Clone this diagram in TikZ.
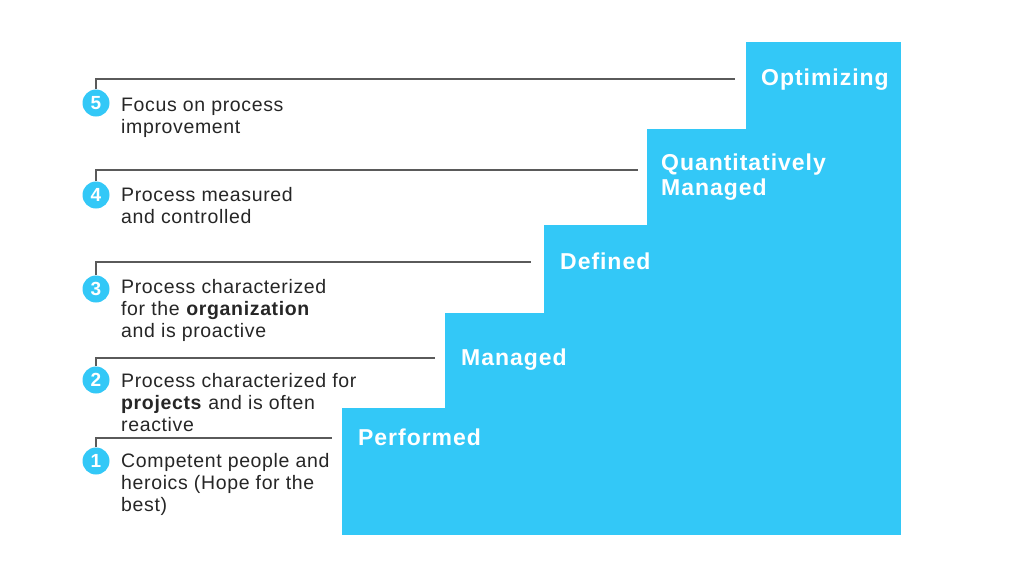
\documentclass[tikz,border=0pt]{standalone}
\usepackage{fontspec}
\setmainfont{Liberation Sans}
\definecolor{stepblue}{HTML}{33C8F7}
\definecolor{linegray}{HTML}{5A5A5A}
\begin{document}
\begin{tikzpicture}[x=1pt,y=-1pt,
  stepbox/.style={fill=stepblue,draw=none,inner sep=0,outer sep=0,anchor=north west},
  steplabel/.style={text=white,font=\fontsize{23}{25}\selectfont\bfseries\addfontfeature{LetterSpace=4.2},anchor=base west,inner sep=0,align=left},
  numcircle/.style={circle,fill=stepblue,draw=none,minimum size=27,inner sep=0,text=white,font=\fontsize{19}{19}\selectfont\bfseries},
  desc/.style={anchor=north west,inner sep=0,align=left,text=black!85,font=\fontsize{19.5}{22}\selectfont\addfontfeature{LetterSpace=3.3}},
  leader/.style={draw=linegray,line width=1.3pt}]
\useasboundingbox[fill=white] (0,0) rectangle (1013,582);
% staircase
\node[stepbox,minimum width=559,minimum height=127] (s1) at (342,408) {};
\node[stepbox,minimum width=456,minimum height=222] (s2) at (445,313) {};
\node[stepbox,minimum width=357,minimum height=310] (s3) at (544,225) {};
\node[stepbox,minimum width=254,minimum height=406] (s4) at (647,129) {};
\node[stepbox,minimum width=155,minimum height=493] (s5) at (746,42) {};
% step labels
\node[steplabel] (l1) at (358,445) {Performed};
\node[steplabel] (l2) at (461,365) {Managed};
\node[steplabel] (l3) at (560,269) {Defined};
\node[steplabel] (l4) at (661,195) {Quantitatively\\Managed};
\node[steplabel] (l5) at (761,85) {Optimizing};
% circles
\node[numcircle] (c5) at (96,103) {5};
\node[numcircle] (c4) at (96,195) {4};
\node[numcircle] (c3) at (96,289) {3};
\node[numcircle] (c2) at (96,380) {2};
\node[numcircle] (c1) at (96,461) {1};
% leader ends
\coordinate (e5) at (735,79);
\coordinate (e4) at (638,170);
\coordinate (e3) at (531,262);
\coordinate (e2) at (435,358);
\coordinate (e1) at (332,438);
\draw[leader] (c5.north) |- (e5);
\draw[leader] (c4.north) |- (e4);
\draw[leader] (c3.north) |- (e3);
\draw[leader] (c2.north) |- (e2);
\draw[leader] (c1.north) |- (e1);
% descriptions
\node[desc] (d5) at (121,95.6) {\strut Focus on process\\improvement};
\node[desc] (d4) at (121,185.6) {\strut Process measured\\and controlled};
\node[desc] (d3) at (121,277.6) {\strut Process characterized\\for the \textbf{organization}\\and is proactive};
\node[desc] (d2) at (121,371.6) {\strut Process characterized for\\\textbf{projects} and is often\\reactive};
\node[desc] (d1) at (121,451.6) {\strut Competent people and\\heroics (Hope for the\\best)};
\end{tikzpicture}
\end{document}
